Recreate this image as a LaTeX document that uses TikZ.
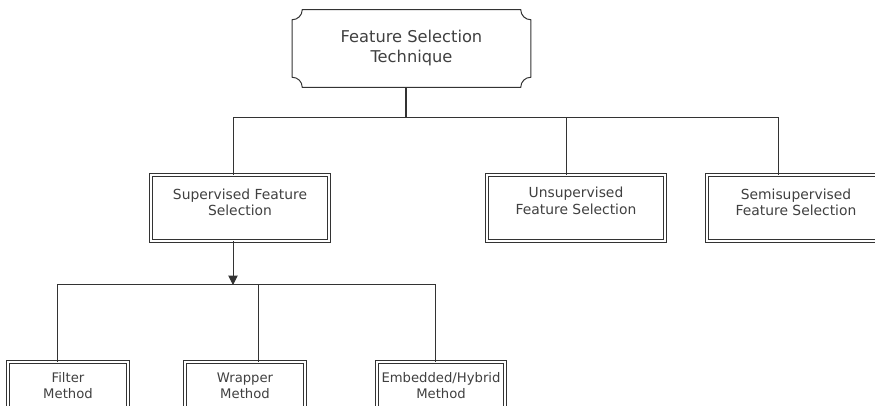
\documentclass[tikz,border=0pt]{standalone}
\usepackage{fontspec}
\setmainfont{DejaVu Sans}
\usepackage{tikz}
\usetikzlibrary{arrows.meta}
\definecolor{ink}{HTML}{333333}
\definecolor{inktext}{HTML}{404040}

\begin{document}
\begin{tikzpicture}[x=0.75pt, y=0.75pt,
  wire/.style={draw=ink, line width=0.75pt},
  trunk/.style={draw=ink, line width=1.9pt},
  dbox/.style={draw=ink, double=white, double distance=1.3pt, line width=0.65pt,
    fill=white, text=inktext, align=center, inner sep=0pt, font=\fontsize{10.4}{12.6}\selectfont},
  plaque/.style={draw=ink, line width=0.75pt, fill=white}]
\useasboundingbox (0, 0) rectangle (875, 406);
\clip (0, 0) rectangle (875, 406);
\node[inner sep=0pt, minimum width=178.5pt, minimum height=57.75pt] (top) at (411.5, 357.5) {};
\draw[plaque] ([xshift=7.5pt]top.north west) -- ([xshift=-7.5pt]top.north east)
  arc[start angle=180, end angle=270, radius=7.5pt] -- ([yshift=7.5pt]top.south east)
  arc[start angle=90, end angle=180, radius=7.5pt] -- ([xshift=7.5pt]top.south west)
  arc[start angle=0, end angle=90, radius=7.5pt] -- ([yshift=-7.5pt]top.north west)
  arc[start angle=270, end angle=360, radius=7.5pt] -- cycle;
\node[text=inktext, align=center, font=\fontsize{12.2}{15}\selectfont] (toptext) at (top) {Feature Selection\\Technique};
\node[dbox, minimum width=133.5pt, minimum height=49.5pt] (sup) at (240, 198) {Supervised Feature\\Selection\\[-4pt]};
\node[dbox, minimum width=133.5pt, minimum height=49.5pt] (unsup) at (576, 198) {Unsupervised\\Feature Selection\\[-2pt]};
\node[dbox, minimum width=133.5pt, minimum height=49.5pt] (semi) at (796, 198) {Semisupervised\\Feature Selection\\[-4pt]};
\node[dbox, font=\fontsize{9.9}{12}\selectfont, minimum width=90pt, minimum height=36pt] (filter) at (68, 20) {Filter\\Method};
\node[dbox, font=\fontsize{9.9}{12}\selectfont, minimum width=90pt, minimum height=36pt] (wrap) at (245, 20) {Wrapper\\Method};
\node[dbox, font=\fontsize{9.9}{12}\selectfont, minimum width=96pt, minimum height=36pt] (embed) at (441, 20) {Embedded/Hybrid\\Method};
\coordinate (j0) at (406, 288);
\coordinate (b1l) at (233, 288);
\coordinate (b1m) at (566, 288);
\coordinate (b1r) at (778, 288);
\coordinate (b2l) at (57, 121);
\coordinate (b2a) at (233, 121);
\coordinate (b2m) at (258, 121);
\coordinate (b2r) at (435, 121);
\draw[trunk] (top.south -| j0) -- (j0);
\draw[wire] (sup.north -| b1l) |- (b1r) -- (semi.north -| b1r);
\draw[wire] (b1m) -- (unsup.north -| b1m);
\draw[wire, -{Triangle[length=7pt, width=7pt]}] (sup.south -| b2a) -- (b2a);
\draw[wire] (filter.north -| b2l) |- (b2r) -- (embed.north -| b2r);
\draw[wire] (b2m) -- (wrap.north -| b2m);
\end{tikzpicture}
\end{document}
